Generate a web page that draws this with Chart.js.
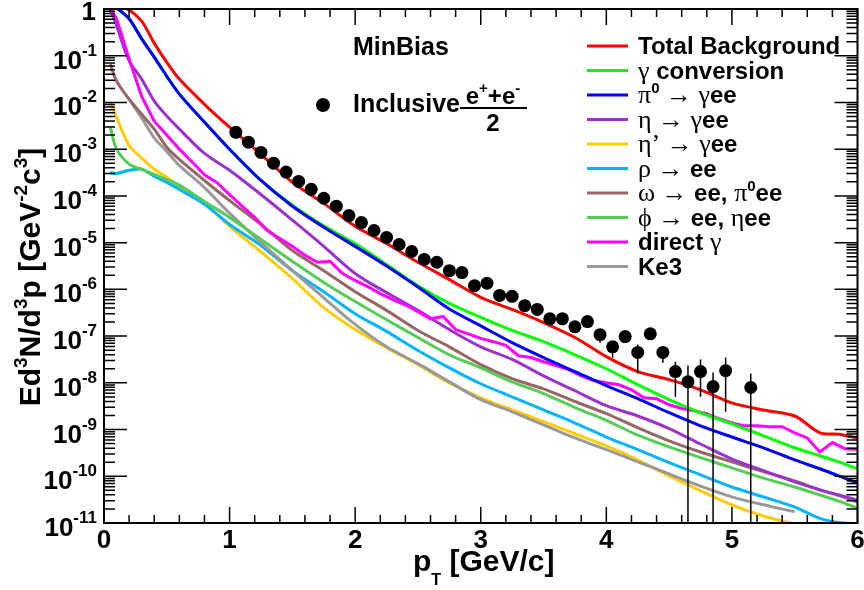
<!DOCTYPE html>
<html>
<head>
<meta charset="utf-8">
<script src="https://cdn.jsdelivr.net/npm/chart.js@4.4.1/dist/chart.umd.min.js"></script>
<style>
  html, body { margin: 0; padding: 0; background: #fff; }
  canvas { display: block; }
</style>
</head>
<body>
<canvas id="bgChart" width="864" height="590"></canvas>
<script>
// pT grid (GeV/c) shared by the smooth cocktail curves
const gridX = [0.05, 0.1, 0.2, 0.3, 0.4, 0.5, 0.6, 0.8, 1.0, 1.25, 1.5, 1.75, 2.0, 2.25, 2.5,
  2.75, 3.0, 3.25, 3.5, 3.75, 4.0, 4.25, 4.5, 4.75, 5.0, 5.25, 5.5, 5.7, 5.85, 6.0];

const totalBkg = [1.29, 1.2, 0.955, 0.55, 0.186, 7.24e-2, 3.16e-2, 9.12e-3, 2.95e-3, 7.76e-4,
  1.95e-4, 6.92e-5, 2.24e-5, 9.55e-6, 3.8e-6, 1.62e-6, 6.76e-7, 3.72e-7, 1.95e-7, 9.33e-8,
  3.63e-8, 1.74e-8, 1.17e-8, 7.08e-9, 3.72e-9, 2.63e-9, 1.95e-9, 8.51e-10, 7.94e-10, 6.61e-10];
const gammaConv = [1.2, 1.05, 6.17e-1, 2.29e-1, 9.33e-2, 3.63e-2, 1.51e-2, 3.8e-3, 1.0e-3, 2.14e-4,
  6.31e-5, 2.29e-5, 9.55e-6, 3.39e-6, 1.2e-6, 5.01e-7, 2.51e-7, 1.32e-7, 7.59e-8, 3.98e-8,
  2.0e-8, 9.12e-9, 4.37e-9, 2.29e-9, 1.32e-9, 7.41e-10, 4.07e-10, 2.75e-10, 2.04e-10, 1.45e-10];
const pi0Dalitz = [1.2, 1.05, 6.17e-1, 2.29e-1, 9.33e-2, 3.63e-2, 1.51e-2, 3.8e-3, 1.0e-3, 2.14e-4,
  6.03e-5, 2.14e-5, 8.32e-6, 3.16e-6, 1.12e-6, 3.8e-7, 1.66e-7, 7.24e-8, 3.47e-8, 1.74e-8,
  8.71e-9, 4.57e-9, 2.29e-9, 1.2e-9, 6.92e-10, 4.07e-10, 2.24e-10, 1.45e-10, 1.02e-10, 7.24e-11];
const etaDalitz = [1.0, 4.37e-1, 7.76e-2, 3.16e-2, 1.07e-2, 5.13e-3, 2.69e-3, 8.13e-4, 3.55e-4, 1.07e-4,
  3.02e-5, 8.32e-6, 2.19e-6, 8.51e-7, 3.55e-7, 1.38e-7, 5.89e-8, 3.16e-8, 1.41e-8, 6.76e-9,
  3.24e-9, 1.95e-9, 1.05e-9, 4.9e-10, 2.34e-10, 1.32e-10, 7.59e-11, 5.13e-11, 3.98e-11, 3.09e-11];
const etaPrime = [1.0e-2, 4.79e-3, 1.2e-3, 6.46e-4, 3.72e-4, 2.51e-4, 1.58e-4, 6.92e-5, 2.24e-5, 6.31e-6,
  1.7e-6, 4.07e-7, 1.38e-7, 5.62e-8, 2.45e-8, 1.0e-8, 4.79e-9, 2.63e-9, 1.48e-9, 8.13e-10,
  4.47e-10, 2.24e-10, 1.02e-10, 4.9e-11, 2.45e-11, 1.41e-11, 9.55e-12, 7.94e-12, 7.08e-12, 6.31e-12];
const rhoEE = [3.16e-4, 3.02e-4, 3.55e-4, 3.72e-4, 2.63e-4, 1.95e-4, 1.38e-4, 6.61e-5, 2.45e-5, 8.71e-6,
  2.51e-6, 8.91e-7, 3.02e-7, 1.26e-7, 4.9e-8, 2.09e-8, 9.55e-9, 5.01e-9, 2.63e-9, 1.38e-9,
  6.92e-10, 3.72e-10, 1.95e-10, 1.07e-10, 5.89e-11, 3.63e-11, 2.19e-11, 1.26e-11, 1.02e-11, 9.55e-12];
const omegaEE = [6.61e-2, 2.88e-2, 1.17e-2, 5.62e-3, 2.69e-3, 1.1e-3, 6.03e-4, 2.14e-4, 7.94e-5, 2.45e-5,
  6.76e-6, 2.51e-6, 8.91e-7, 3.55e-7, 1.32e-7, 5.89e-8, 2.45e-8, 1.23e-8, 7.41e-9, 3.98e-9,
  2.19e-9, 1.1e-9, 5.75e-10, 3.31e-10, 2.04e-10, 1.26e-10, 7.94e-11, 5.13e-11, 3.89e-11, 2.82e-11];
const phiEE = [2.95e-3, 1.0e-3, 4.79e-4, 3.72e-4, 2.88e-4, 2.24e-4, 1.7e-4, 7.59e-5, 3.47e-5, 1.17e-5,
  3.98e-6, 1.41e-6, 5.5e-7, 2.24e-7, 9.33e-8, 3.98e-8, 2.09e-8, 1.05e-8, 5.89e-9, 2.95e-9,
  1.58e-9, 7.59e-10, 4.27e-10, 2.51e-10, 1.51e-10, 9.12e-11, 5.89e-11, 3.98e-11, 2.95e-11, 2.09e-11];
const ke3 = [null, null, 1.17e-2, 4.68e-3, 1.74e-3, 8.91e-4, 4.47e-4, 1.51e-4, 4.27e-5, 1.0e-5,
  2.51e-6, 6.61e-7, 1.78e-7, 5.89e-8, 2.57e-8, 1.05e-8, 4.37e-9, 2.4e-9, 1.26e-9, 6.61e-10,
  3.72e-10, 2.04e-10, 1.12e-10, 6.17e-11, 3.63e-11, 2.45e-11, 1.74e-11, null, null, null];

// direct photon curve is jagged, so it has its own finer grid
const directX = [0.05, 0.1, 0.2, 0.3, 0.4, 0.5, 0.6, 0.7, 0.8, 0.9, 1.0, 1.1, 1.2, 1.3, 1.4, 1.5,
  1.6, 1.7, 1.8, 1.9, 2.0, 2.1, 2.2, 2.3, 2.4, 2.5, 2.6, 2.7, 2.8, 2.9, 3.0, 3.1, 3.2, 3.3, 3.4,
  3.5, 3.6, 3.7, 3.8, 3.9, 4.0, 4.1, 4.2, 4.3, 4.4, 4.5, 4.6, 4.7, 4.8, 4.9, 5.0, 5.1, 5.2, 5.3,
  5.4, 5.5, 5.6, 5.7, 5.8, 5.9, 6.0];
const directGamma = [1.0, 6.17e-1, 8.51e-2, 1.35e-2, 3.98e-3, 2.0e-3, 1.0e-3, 5.37e-4, 2.82e-4, 1.91e-4, 1.07e-4,
  6.03e-5, 3.47e-5, 1.82e-5, 1.23e-5, 8.32e-6, 5.37e-6, 3.8e-6, 3.98e-6, 2.19e-6, 1.55e-6,
  1.15e-6, 8.13e-7, 6.03e-7, 4.68e-7, 3.31e-7, 2.34e-7, 2.63e-7, 1.38e-7, 1.12e-7, 8.91e-8,
  7.59e-8, 6.31e-8, 3.8e-8, 3.47e-8, 2.82e-8, 2.34e-8, 1.91e-8, 1.41e-8, 1.12e-8, 1.0e-8,
  9.12e-9, 7.08e-9, 4.79e-9, 4.57e-9, 3.39e-9, 2.82e-9, 2.51e-9, 2.19e-9, 1.7e-9, 1.38e-9,
  1.2e-9, 1.2e-9, 1.15e-9, 1.15e-9, 8.51e-10, 6.61e-10, 3.31e-10, 5.25e-10, 3.89e-10, 3.72e-10];

// inclusive (e+ + e-)/2 points
const incX = [1.05, 1.15, 1.25, 1.35, 1.45, 1.55, 1.65, 1.75, 1.85, 1.95, 2.05, 2.15, 2.25, 2.35,
  2.45, 2.55, 2.65, 2.75, 2.85, 2.95, 3.05, 3.15, 3.25, 3.35, 3.45, 3.55, 3.65, 3.75, 3.85, 3.95,
  4.05, 4.15, 4.25, 4.35, 4.45, 4.55, 4.65, 4.75, 4.85, 4.95, 5.15];
const incY = [2.29e-3, 1.41e-3, 8.51e-4, 5.01e-4, 3.24e-4, 2.04e-4, 1.38e-4, 8.91e-5, 6.03e-5, 3.8e-5,
  2.69e-5, 1.82e-5, 1.29e-5, 9.12e-6, 6.46e-6, 4.37e-6, 3.8e-6, 2.51e-6, 2.29e-6, 1.2e-6,
  1.35e-6, 7.41e-7, 7.08e-7, 4.47e-7, 3.72e-7, 2.34e-7, 2.34e-7, 1.58e-7, 2.04e-7, 1.07e-7,
  5.89e-8, 9.77e-8, 4.47e-8, 1.12e-7, 4.47e-8, 1.74e-8, 1.05e-8, 1.74e-8, 8.32e-9, 1.82e-8, 7.94e-9];
const errX = [3.95, 4.05, 4.25, 4.45, 4.55, 4.65, 4.75, 4.85, 4.95, 5.15];
const errHigh = [1.26e-7, 7.59e-8, 6.61e-8, 5.89e-8, 2.82e-8, 2.34e-8, 3.16e-8, 1.66e-8, 3.47e-8, 1.58e-8];
const errLow = [7.24e-8, 3.47e-8, 1.58e-8, 2.69e-8, 5.01e-9, 0, 5.01e-9, 0, 2.4e-9, 0];

const xTickLabels = ["0", "1", "2", "3", "4", "5", "6"];
const yTickExps = [0, -1, -2, -3, -4, -5, -6, -7, -8, -9, -10, -11];

const SANS = '"Liberation Sans", Arial, Helvetica, sans-serif';
const SERIF = '"Liberation Serif", "Times New Roman", serif';
const bold = px => `bold ${px}px ${SANS}`;
const greek = px => `${px}px ${SERIF}`;

function points(xs, ys) {
  return xs.map((x, i) => ({ x: x, y: ys[i] })).filter(p => p.y != null);
}

function curve(label, xs, ys, color, order, smooth) {
  return {
    label: label,
    data: points(xs, ys),
    borderColor: color,
    backgroundColor: color,
    borderWidth: 3,
    pointRadius: 0,
    fill: false,
    clip: 0,
    order: order,
    tension: smooth ? 0.3 : 0,
  };
}

// legend text pieces: latin bold, greek letters in a plain serif like ROOT's symbol font
const legendParts = {
  total: [{ t: "Total Background", f: bold(24) }],
  conv: [{ t: "γ", f: greek(26) }, { t: " conversion", f: bold(24) }],
  pi0: [{ t: "π", f: greek(26) }, { t: "0", f: bold(15), dy: -10 }, { t: " → γ", f: greek(26) }, { t: "ee", f: bold(24) }],
  eta: [{ t: "η → γ", f: greek(26) }, { t: "ee", f: bold(24) }],
  etap: [{ t: "η’ → γ", f: greek(26) }, { t: "ee", f: bold(24) }],
  rho: [{ t: "ρ → ", f: greek(26) }, { t: "ee", f: bold(24) }],
  omega: [{ t: "ω → ", f: greek(26) }, { t: "ee, ", f: bold(24) }, { t: "π", f: greek(26) }, { t: "0", f: bold(15), dy: -10 }, { t: "ee", f: bold(24) }],
  phi: [{ t: "ϕ → ", f: greek(26) }, { t: "ee, ", f: bold(24) }, { t: "η", f: greek(26) }, { t: "ee", f: bold(24) }],
  direct: [{ t: "direct ", f: bold(24) }, { t: "γ", f: greek(26) }],
  ke3: [{ t: "Ke3", f: bold(24) }],
};

const curves = [
  { key: "total", ds: curve("Total Background", gridX, totalBkg, "#ff0000", 1, true) },
  { key: "conv", ds: curve("γ conversion", gridX, gammaConv, "#00ff00", 3, true) },
  { key: "pi0", ds: curve("π0 → γee", gridX, pi0Dalitz, "#0000ff", 2, true) },
  { key: "eta", ds: curve("η → γee", gridX, etaDalitz, "#9933cc", 4, true) },
  { key: "etap", ds: curve("η’ → γee", gridX, etaPrime, "#ffcc00", 8, true) },
  { key: "rho", ds: curve("ρ → ee", gridX, rhoEE, "#00b4ff", 7, true) },
  { key: "omega", ds: curve("ω → ee, π0ee", gridX, omegaEE, "#996666", 6, true) },
  { key: "phi", ds: curve("ϕ → ee, ηee", gridX, phiEE, "#55cc55", 5, true) },
  { key: "direct", ds: curve("direct γ", directX, directGamma, "#ff00ff", 3, false) },
  { key: "ke3", ds: curve("Ke3", gridX, ke3, "#999999", 6, true) },
];

function richWidth(ctx, parts) {
  let w = 0;
  parts.forEach(p => { ctx.font = p.f; w += ctx.measureText(p.t).width; });
  return w;
}

function drawRich(ctx, x, y, parts, align) {
  const w = richWidth(ctx, parts);
  let cx = align === "center" ? x - w / 2 : align === "right" ? x - w : x;
  ctx.textAlign = "left";
  ctx.textBaseline = "alphabetic";
  parts.forEach(p => {
    ctx.font = p.f;
    ctx.fillText(p.t, cx, y + (p.dy || 0));
    cx += ctx.measureText(p.t).width;
  });
}

const rootStyle = {
  id: "rootStyle",
  afterDatasetsDraw(chart) {
    const { ctx, chartArea: a } = chart;
    const xs = chart.scales.x, ys = chart.scales.y;
    ctx.save();
    ctx.fillStyle = "#000";
    ctx.strokeStyle = "#000";

    // error bars
    ctx.lineWidth = 1.5;
    errX.forEach((x, i) => {
      const px = xs.getPixelForValue(x);
      const top = Math.max(a.top, ys.getPixelForValue(errHigh[i]));
      const bot = errLow[i] > 0 ? Math.min(a.bottom, ys.getPixelForValue(errLow[i])) : a.bottom;
      ctx.beginPath();
      ctx.moveTo(px, top);
      ctx.lineTo(px, bot);
      ctx.stroke();
    });

    // frame
    ctx.lineWidth = 2;
    ctx.strokeRect(a.left, a.top, a.right - a.left, a.bottom - a.top);

    // x ticks, bottom and top
    ctx.lineWidth = 1.5;
    ctx.beginPath();
    for (let i = 0; i <= 30; i++) {
      const px = xs.getPixelForValue(i * 0.2);
      const len = i % 5 === 0 ? 16 : 8;
      ctx.moveTo(px, a.bottom); ctx.lineTo(px, a.bottom - len);
      ctx.moveTo(px, a.top); ctx.lineTo(px, a.top + len);
    }
    // y ticks, left and right
    yTickExps.forEach(e => {
      const major = ys.getPixelForValue(Math.pow(10, e));
      ctx.moveTo(a.left, major); ctx.lineTo(a.left + 23, major);
      ctx.moveTo(a.right, major); ctx.lineTo(a.right - 23, major);
      if (e < 0) {
        for (let m = 2; m <= 9; m++) {
          const py = ys.getPixelForValue(m * Math.pow(10, e));
          ctx.moveTo(a.left, py); ctx.lineTo(a.left + 11, py);
          ctx.moveTo(a.right, py); ctx.lineTo(a.right - 11, py);
        }
      }
    });
    ctx.stroke();

    // tick labels
    ctx.textAlign = "center";
    ctx.textBaseline = "alphabetic";
    ctx.font = bold(26);
    xTickLabels.forEach((lab, i) => {
      ctx.fillText(lab, xs.getPixelForValue(i), 548);
    });
    yTickExps.forEach(e => {
      const py = ys.getPixelForValue(Math.pow(10, e));
      if (e === 0) {
        ctx.font = bold(26);
        ctx.textAlign = "right";
        ctx.fillText("1", 96, py + 11);
      } else {
        drawRich(ctx, 97, py + 13, [{ t: "10", f: bold(26) }, { t: "-" + (-e), f: bold(17), dy: -13 }], "right");
      }
    });

    // axis titles
    drawRich(ctx, 413, 571, [{ t: "p", f: bold(30) }, { t: "T", f: bold(16), dy: 14 }, { t: " [GeV/c]", f: bold(30) }], "left");
    ctx.save();
    ctx.translate(40, 277);
    ctx.rotate(-Math.PI / 2);
    drawRich(ctx, 0, 0, [
      { t: "Ed", f: bold(30) }, { t: "3", f: bold(19), dy: -13 },
      { t: "N/d", f: bold(30) }, { t: "3", f: bold(19), dy: -13 },
      { t: "p [GeV", f: bold(30) }, { t: "-2", f: bold(19), dy: -13 },
      { t: "c", f: bold(30) }, { t: "3", f: bold(19), dy: -13 },
      { t: "]", f: bold(30) },
    ], "center");
    ctx.restore();

    // legend
    curves.forEach((c, i) => {
      const ly = 46 + i * 24.5;
      ctx.strokeStyle = c.ds.borderColor;
      ctx.lineWidth = 3;
      ctx.beginPath();
      ctx.moveTo(587, ly); ctx.lineTo(628, ly);
      ctx.stroke();
      ctx.fillStyle = "#000";
      drawRich(ctx, 638, ly + 8, legendParts[c.key], "left");
    });

    // labels in the plot
    drawRich(ctx, 353, 55, [{ t: "MinBias", f: bold(25) }], "left");
    ctx.beginPath();
    ctx.arc(323, 105, 7, 0, Math.PI * 2);
    ctx.fill();
    drawRich(ctx, 353, 112, [{ t: "Inclusive", f: bold(25) }], "left");
    drawRich(ctx, 493, 104, [
      { t: "e", f: bold(24) }, { t: "+", f: bold(15), dy: -11 },
      { t: "+e", f: bold(24) }, { t: "-", f: bold(15), dy: -11 },
    ], "center");
    ctx.strokeStyle = "#000";
    ctx.lineWidth = 2;
    ctx.beginPath();
    ctx.moveTo(460, 108); ctx.lineTo(527, 108);
    ctx.stroke();
    drawRich(ctx, 493, 131, [{ t: "2", f: bold(24) }], "center");

    ctx.restore();
  },
};

const datasets = [{
  label: "Inclusive (e+ + e-)/2",
  data: points(incX, incY),
  showLine: false,
  pointRadius: 6.5,
  pointBackgroundColor: "#000",
  pointBorderWidth: 0,
  order: 0,
}].concat(curves.map(c => c.ds));

new Chart(document.getElementById("bgChart"), {
  type: "line",
  data: { datasets: datasets },
  options: {
    responsive: false,
    animation: false,
    devicePixelRatio: 1,
    events: [],
    layout: { padding: { left: 104, right: 3, top: 9, bottom: 67 } },
    plugins: { legend: { display: false }, tooltip: { enabled: false } },
    scales: {
      x: { type: "linear", min: 0, max: 6, display: false },
      y: { type: "logarithmic", min: 1e-11, max: 1, display: false },
    },
  },
  plugins: [rootStyle],
});
</script>
</body>
</html>
